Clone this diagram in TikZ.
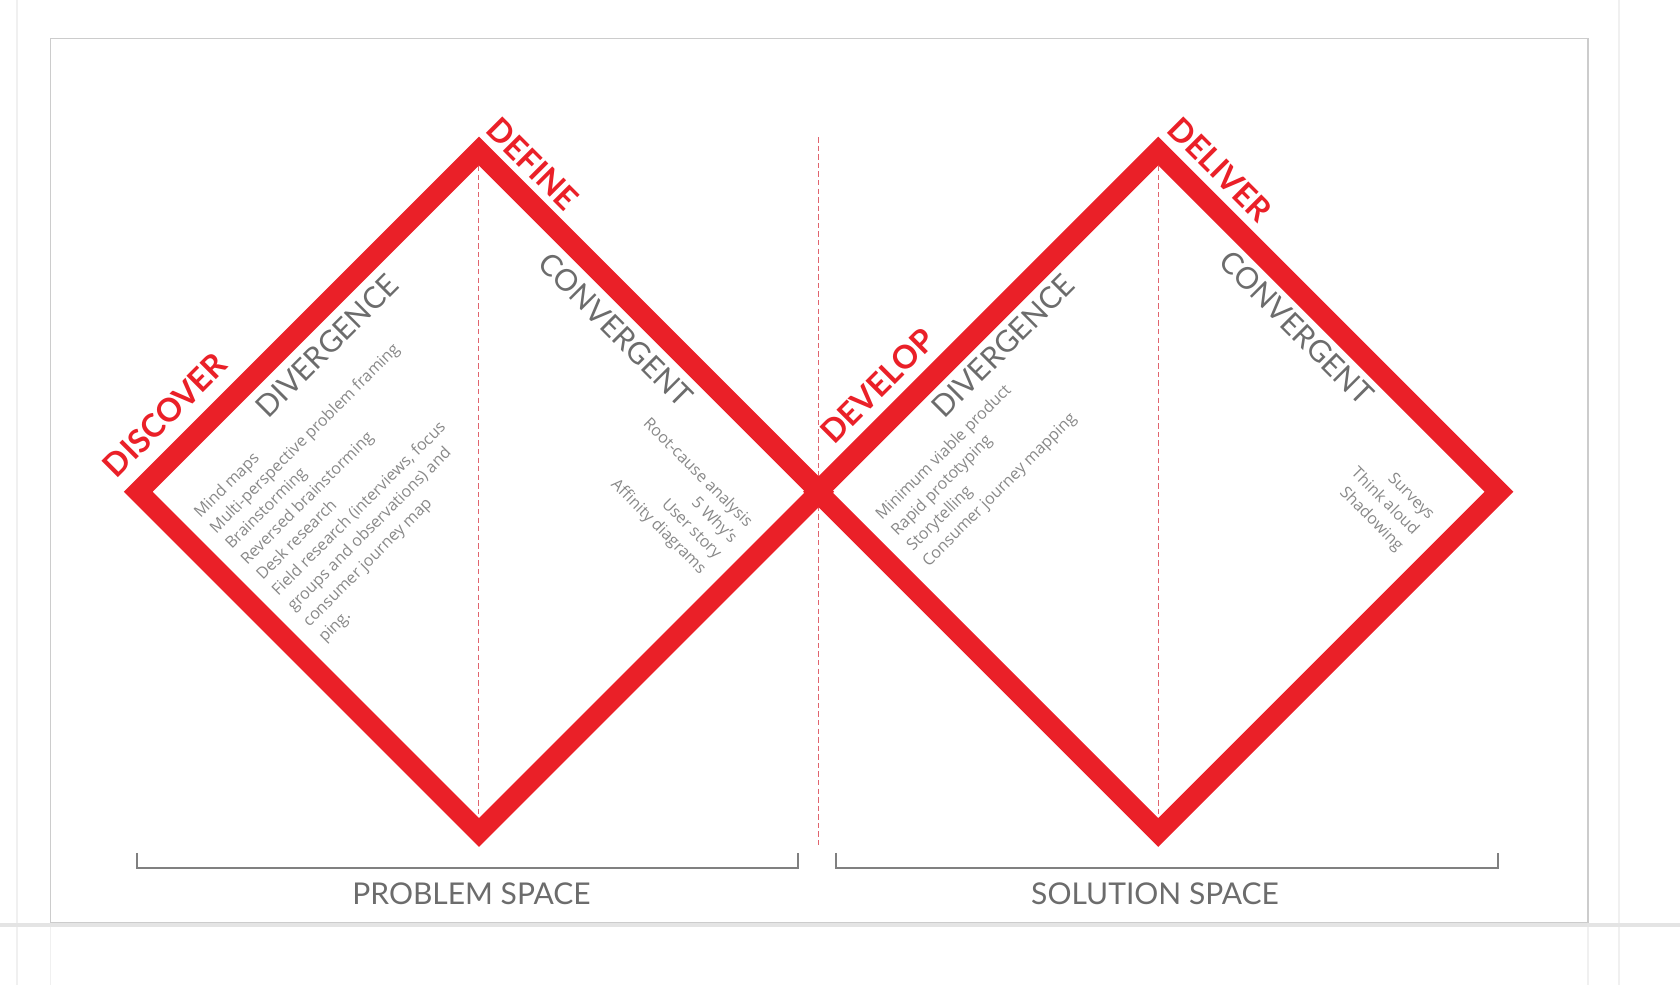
\documentclass[tikz,border=0pt]{standalone}
\usepackage{fontspec}
\setmainfont{Open Sans}
\newfontfamily\headfont{Lato}
\usepackage{tikz}

\definecolor{ddred}{RGB}{234,32,40}
\definecolor{modegray}{RGB}{108,108,108}
\definecolor{listgray}{RGB}{136,136,136}
\definecolor{framegray}{RGB}{204,204,204}
\definecolor{pagegray}{RGB}{240,240,240}
\definecolor{sepgray}{RGB}{228,228,228}
\definecolor{dashred}{RGB}{224,100,110}

\tikzset{
  phase/.style={text=ddred, font=\headfont\bfseries\fontsize{30}{30}\selectfont, inner sep=0pt},
  mode/.style={text=modegray, font=\headfont\fontsize{28}{28}\selectfont, inner sep=0pt},
  methods/.style={text=listgray, font=\fontsize{15}{20.5}\selectfont, inner sep=0pt},
  space/.style={text=modegray, font=\headfont\fontsize{28}{28}\selectfont, inner sep=0pt},
  diamond line/.style={draw=ddred, line width=19, line join=miter},
  split line/.style={draw=dashred, line width=1, dash pattern=on 5pt off 3pt},
  bracket line/.style={draw=gray, line width=1.5},
  page line/.style={draw=pagegray, line width=1.5}
}

\begin{document}
\begin{tikzpicture}[x=1pt,y=1pt,yscale=-1,xscale=1]
  \useasboundingbox (0,0) rectangle (1568,919);
  % page and frame
  \draw[page line] (16,0) -- (16,919);
  \draw[page line] (1511,0) -- (1511,919);
  \draw[page line] (47,862) -- (47,919);
  \draw[page line] (1482,862) -- (1482,919);
  \draw[draw=framegray, line width=1.5] (47,36) rectangle (1482,861);
  \draw[draw=sepgray, line width=4] (0,863) -- (1568,863);

  % corners of the two diamonds
  \coordinate (dis-top) at (447,141);
  \coordinate (dis-left) at (129,459);
  \coordinate (dis-bot) at (447,777);
  \coordinate (dis-right) at (765,459);
  \coordinate (dev-top) at (1081,141);
  \coordinate (dev-left) at (763,459);
  \coordinate (dev-bot) at (1081,777);
  \coordinate (dev-right) at (1399,459);
  \coordinate (dis-in-top) at (447,155);
  \coordinate (dis-in-bot) at (447,763);
  \coordinate (dev-in-top) at (1081,155);
  \coordinate (dev-in-bot) at (1081,763);
  \coordinate (mid-top) at (764,128);
  \coordinate (mid-bot) at (764,790);

  % dashed splits
  \draw[split line] (mid-top) -- (mid-bot);
  \draw[split line] (dis-in-top) -- (dis-in-bot);
  \draw[split line] (dev-in-top) -- (dev-in-bot);

  % diamonds
  \draw[diamond line] (dis-left) -- (dis-top) -- (dis-right) -- (dis-bot) -- cycle;
  \draw[diamond line] (dev-left) -- (dev-top) -- (dev-right) -- (dev-bot) -- cycle;

  % Text Node
  \node[phase, rotate=45] (discover) at (154,387) {DISCOVER};
  % Text Node
  \node[phase, rotate=-45] (define) at (497,153) {DEFINE};
  % Text Node
  \node[phase, rotate=45] (develop) at (819,360) {DEVELOP};
  % Text Node
  \node[phase, rotate=-45] (deliver) at (1139,158) {DELIVER};

  % Text Node
  \node[mode, rotate=45] (dis-mode) at (305,323) {DIVERGENCE};
  % Text Node
  \node[mode, rotate=-45] (def-mode) at (575,308) {CONVERGENT};
  % Text Node
  \node[mode, rotate=45] (dev-mode) at (936,323) {DIVERGENCE};
  % Text Node
  \node[mode, rotate=-45] (del-mode) at (1210,306) {CONVERGENT};

  % Text Node
  \node[methods, rotate=45, anchor=north west, align=left] (dis-list) at (179,476)
    {Mind maps\\Multi-perspective problem framing\\Brainstorming\\Reversed brainstorming\\Desk research\\Field research (interviews, focus\\groups and observations) and\\consumer journey map\\ping.};
  % Text Node
  \node[methods, rotate=-45, anchor=north east, align=right] (def-list) at (705,485)
    {Root-cause analysis\\5 Why’s\\User story\\Affinity diagrams};
  % Text Node
  \node[methods, rotate=45, anchor=north west, align=left] (dev-list) at (815,478)
    {Minimum viable product\\Rapid prototyping\\Storytelling\\Consumer journey mapping};
  % Text Node
  \node[methods, rotate=-45, anchor=north east, align=right] (del-list) at (1341,478)
    {Surveys\\Think aloud\\Shadowing};

  % brackets
  \coordinate (prob-a) at (128,796);
  \coordinate (prob-b) at (745,796);
  \coordinate (sol-a) at (780,796);
  \coordinate (sol-b) at (1398,796);
  \draw[bracket line] (prob-a) -- ++(0,14) -| (prob-b);
  \draw[bracket line] (sol-a) -- ++(0,14) -| (sol-b);

  % Text Node
  \node[space] (problem) at (440,834) {PROBLEM SPACE};
  % Text Node
  \node[space] (solution) at (1078,834) {SOLUTION SPACE};
\end{tikzpicture}
\end{document}
